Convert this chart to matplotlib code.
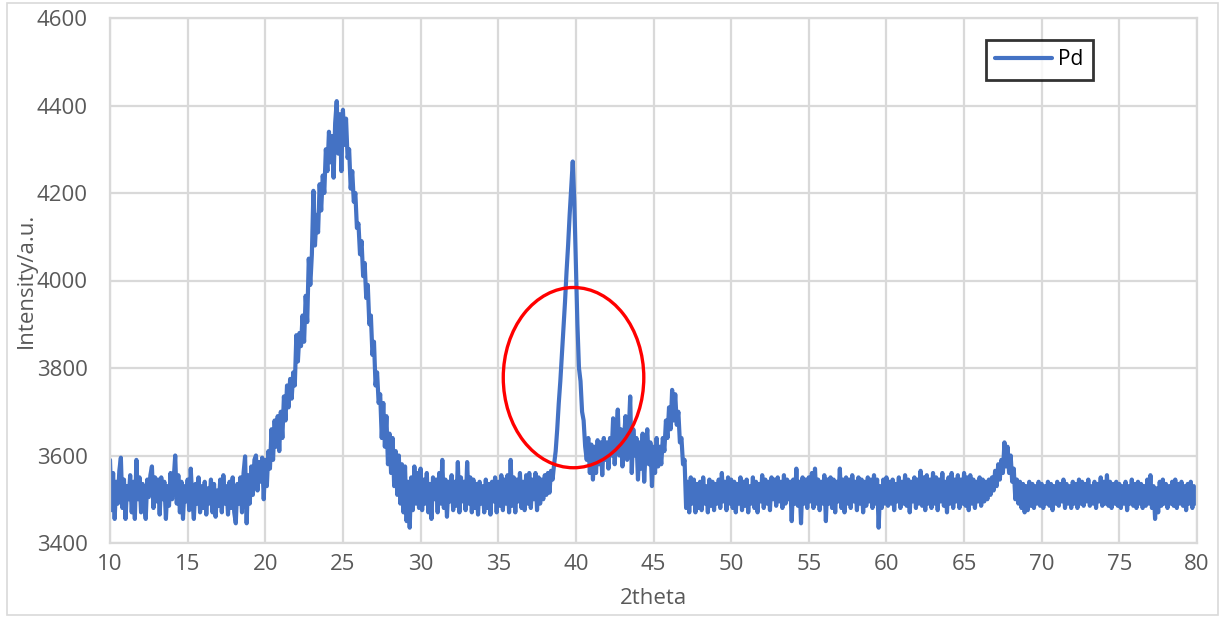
import numpy as np
import matplotlib
matplotlib.use("Agg")
import matplotlib.pyplot as plt
from matplotlib.patches import Ellipse, Rectangle

# 2theta grid, 0.1 deg step from 10 to 80
two_theta = np.round(np.arange(10.0, 80.05, 0.1), 1)

# Intensity, one list per 10 deg
y_10_20 = [3590, 3475, 3560, 3455, 3540, 3490, 3565, 3595, 3480, 3545,
           3455, 3530, 3500, 3555, 3470, 3540, 3455, 3590, 3500, 3550,
           3470, 3535, 3490, 3455, 3545, 3505, 3555, 3575, 3480, 3550,
           3495, 3545, 3465, 3550, 3500, 3540, 3455, 3530, 3485, 3560,
           3500, 3545, 3600, 3490, 3555, 3470, 3540, 3455, 3530, 3495,
           3545, 3475, 3570, 3500, 3455, 3535, 3490, 3550, 3470, 3530,
           3480, 3540, 3465, 3525, 3490, 3545, 3470, 3535, 3460, 3520,
           3485, 3545, 3470, 3555, 3490, 3530, 3465, 3540, 3480, 3550,
           3470, 3445, 3535, 3490, 3550, 3470, 3560, 3598, 3445, 3555,
           3490, 3575, 3510, 3590, 3600, 3520, 3585, 3540, 3595, 3500]
y_20_30 = [3590, 3530, 3610, 3570, 3660, 3590, 3680, 3620, 3690, 3610,
           3700, 3640, 3735, 3680, 3760, 3710, 3775, 3730, 3790, 3760,
           3875, 3815, 3880, 3850, 3920, 3860, 3965, 3905, 4050, 3990,
           4060, 4205, 4080, 4150, 4110, 4220, 4160, 4240, 4200, 4300,
           4250, 4340, 4270, 4330, 4235, 4360, 4410, 4290, 4380, 4250,
           4390, 4310, 4370, 4280, 4300, 4210, 4250, 4180, 4200, 4120,
           4130, 4060, 4090, 4010, 4040, 3960, 3990, 3900, 3920, 3830,
           3860, 3760, 3790, 3720, 3740, 3640, 3720, 3620, 3690, 3580,
           3650, 3560, 3640, 3530, 3610, 3510, 3600, 3490, 3580, 3470,
           3575, 3450, 3540, 3435, 3550, 3475, 3575, 3490, 3560, 3480]
y_30_40 = [3570, 3475, 3545, 3490, 3560, 3470, 3535, 3455, 3550, 3500,
           3545, 3470, 3560, 3490, 3590, 3480, 3545, 3460, 3540, 3495,
           3555, 3475, 3540, 3485, 3585, 3470, 3550, 3495, 3540, 3475,
           3585, 3490, 3550, 3470, 3545, 3480, 3535, 3465, 3540, 3490,
           3530, 3470, 3545, 3480, 3535, 3465, 3540, 3495, 3550, 3470,
           3540, 3485, 3555, 3475, 3545, 3490, 3555, 3470, 3590, 3485,
           3550, 3470, 3545, 3495, 3560, 3480, 3540, 3475, 3555, 3490,
           3560, 3480, 3545, 3500, 3560, 3475, 3550, 3490, 3545, 3500,
           3555, 3510, 3560, 3515, 3565, 3545, 3580, 3610, 3660, 3720,
           3770, 3830, 3890, 3950, 4020, 4080, 4150, 4210, 4272, 4180]
y_40_50 = [4040, 3900, 3800, 3770, 3700, 3680, 3620, 3590, 3640, 3560,
           3625, 3545, 3620, 3560, 3635, 3580, 3630, 3555, 3640, 3590,
           3630, 3570, 3640, 3600, 3685, 3580, 3650, 3705, 3600, 3660,
           3575, 3640, 3690, 3590, 3650, 3735, 3560, 3660, 3600, 3640,
           3545, 3630, 3570, 3650, 3540, 3620, 3660, 3580, 3630, 3530,
           3620, 3560, 3640, 3575, 3620, 3580, 3640, 3610, 3680, 3640,
           3710, 3660, 3750, 3680, 3740, 3670, 3700, 3630, 3640, 3580,
           3590, 3480, 3540, 3470, 3550, 3490, 3545, 3470, 3535, 3480,
           3540, 3475, 3550, 3490, 3530, 3470, 3545, 3485, 3540, 3475,
           3535, 3490, 3545, 3480, 3560, 3495, 3540, 3475, 3550, 3490]
y_50_60 = [3545, 3480, 3540, 3470, 3535, 3490, 3550, 3475, 3540, 3485,
           3545, 3470, 3530, 3490, 3550, 3480, 3540, 3470, 3535, 3495,
           3555, 3480, 3545, 3490, 3540, 3475, 3550, 3500, 3545, 3485,
           3550, 3495, 3540, 3480, 3555, 3490, 3545, 3500, 3540, 3450,
           3545, 3490, 3570, 3485, 3540, 3445, 3550, 3490, 3545, 3480,
           3550, 3495, 3560, 3480, 3570, 3490, 3545, 3475, 3540, 3490,
           3555, 3450, 3545, 3490, 3550, 3480, 3545, 3470, 3540, 3495,
           3570, 3480, 3545, 3470, 3550, 3490, 3545, 3480, 3555, 3495,
           3540, 3475, 3550, 3490, 3545, 3470, 3540, 3485, 3550, 3495,
           3545, 3480, 3555, 3490, 3545, 3435, 3530, 3480, 3545, 3490]
y_60_70 = [3550, 3485, 3540, 3490, 3545, 3475, 3535, 3495, 3550, 3480,
           3540, 3490, 3555, 3485, 3545, 3470, 3540, 3495, 3550, 3480,
           3545, 3490, 3565, 3485, 3550, 3475, 3555, 3490, 3545, 3480,
           3560, 3490, 3550, 3475, 3545, 3495, 3560, 3485, 3540, 3470,
           3550, 3490, 3560, 3480, 3545, 3495, 3555, 3480, 3545, 3490,
           3560, 3485, 3550, 3475, 3555, 3490, 3545, 3480, 3540, 3495,
           3550, 3485, 3545, 3495, 3540, 3500, 3545, 3510, 3550, 3520,
           3565, 3530, 3580, 3545, 3590, 3560, 3630, 3575, 3620, 3560,
           3600, 3540, 3570, 3500, 3545, 3490, 3540, 3480, 3535, 3470,
           3530, 3475, 3540, 3485, 3535, 3480, 3530, 3490, 3540, 3485]
y_70_80 = [3535, 3480, 3530, 3490, 3540, 3485, 3535, 3475, 3530, 3490,
           3540, 3485, 3535, 3495, 3545, 3480, 3535, 3490, 3530, 3480,
           3540, 3490, 3535, 3480, 3545, 3490, 3540, 3485, 3535, 3495,
           3545, 3485, 3530, 3490, 3540, 3480, 3535, 3495, 3550, 3485,
           3540, 3490, 3555, 3485, 3540, 3480, 3535, 3490, 3540, 3485,
           3535, 3480, 3530, 3490, 3540, 3475, 3530, 3490, 3545, 3485,
           3535, 3480, 3540, 3490, 3535, 3480, 3530, 3485, 3545, 3490,
           3555, 3480, 3530, 3455, 3525, 3470, 3540, 3485, 3545, 3490,
           3535, 3480, 3530, 3490, 3540, 3485, 3545, 3480, 3535, 3490,
           3540, 3485, 3530, 3475, 3535, 3490, 3540, 3480, 3530, 3490,
           3525]

intensity = y_10_20 + y_20_30 + y_30_40 + y_40_50 + y_50_60 + y_60_70 + y_70_80

# marked region (red ring round the 40 deg peak)
ring_center = (39.85, 3778)
ring_size = (9.05, 412)

plt.rcParams['font.family'] = ['Open Sans', 'DejaVu Sans']
grey = '#595959'

fig = plt.figure(figsize=(12.26, 6.18), dpi=100)
ax = fig.add_axes([110 / 1226, 1 - 543 / 618, 1087 / 1226, 525 / 618])

ax.plot(two_theta, intensity, color='#4472C4', lw=3.0, label='Pd',
        solid_joinstyle='round', solid_capstyle='round')

ax.add_patch(Ellipse(ring_center, ring_size[0], ring_size[1], fill=False,
                     edgecolor='#FF0000', lw=2.4, zorder=5))

ax.set_xlim(10, 80)
ax.set_ylim(3400, 4600)
ax.set_xticks(range(10, 81, 5))
ax.set_yticks(range(3400, 4601, 200))
ax.grid(color='#D9D9D9', lw=1.6)
ax.set_axisbelow(True)
for s in ax.spines.values():
    s.set_color('#D9D9D9')
    s.set_linewidth(1.6)
ax.tick_params(length=0, labelcolor=grey, labelsize=16)
ax.yaxis.set_tick_params(pad=16)
ax.xaxis.set_tick_params(pad=8)

ax.set_xlabel('2theta', fontsize=16, color=grey, labelpad=9)
ax.set_ylabel('Intensity/a.u.', fontsize=16, color=grey, labelpad=0)

leg = ax.legend(loc='upper left', bbox_to_anchor=(986 / 1226, 1 - 40 / 618),
                bbox_transform=fig.transFigure, fancybox=False, fontsize=15,
                handlelength=2.7, borderaxespad=0, borderpad=0.45,
                handletextpad=0.3)
leg.get_frame().set_edgecolor('black')
leg.get_frame().set_linewidth(2)

# light border round the whole chart
fig.patches.append(Rectangle((7 / 1226, 3 / 618), 1211 / 1226, 612 / 618,
                             transform=fig.transFigure, fill=False,
                             edgecolor='#D9D9D9', lw=1.2))

plt.savefig("out.png", dpi=100)
